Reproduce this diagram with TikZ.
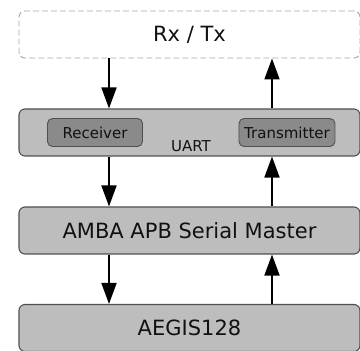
\documentclass[tikz,border=0pt]{standalone}
\usepackage{fontspec}
\setmainfont{DejaVu Sans}
\usetikzlibrary{arrows.meta}
\definecolor{boxfill}{HTML}{BDBDBD}
\definecolor{innerfill}{HTML}{8A8A8A}
\definecolor{boxline}{HTML}{505050}
\definecolor{dashline}{HTML}{A8A8A8}
\definecolor{txt}{HTML}{111111}
\tikzset{
  bigbox/.style={draw=boxline, line width=1.1pt, fill=boxfill, rounded corners=6pt,
    minimum width=341pt, minimum height=47pt, inner sep=0pt, text=txt,
    font=\fontsize{21}{25}\selectfont},
  ghostbox/.style={draw=dashline, dash pattern=on 6pt off 3pt, line width=0.9pt, fill=white,
    rounded corners=6pt, minimum width=341pt, minimum height=47pt, inner sep=0pt, text=txt,
    font=\fontsize{21}{25}\selectfont},
  innerbox/.style={draw=boxline, line width=0.9pt, fill=innerfill, rounded corners=5pt,
    minimum height=28pt, inner sep=0pt, text=txt, font=\fontsize{15}{18}\selectfont},
  smalltext/.style={inner sep=0pt, text=txt, font=\fontsize{15}{18}\selectfont},
  arr/.style={line width=1.8pt, -{Triangle[length=21pt,width=15pt]}}
}
\begin{document}
\begin{tikzpicture}[x=1pt,y=1pt]
\useasboundingbox (0,0) rectangle (360,351);
\node[ghostbox] (rxtx) at (189.5,316.5) {Rx / Tx};
\node[bigbox] (uart) at (189.5,218.5) {};
\node[innerbox, minimum width=95pt] (rec) at (95,218.5) {Receiver};
\node[innerbox, minimum width=96pt] (tra) at (287,218.5) {Transmitter};
\node[smalltext] (uartlbl) at (191,205) {UART};
\node[bigbox] (amba) at (189.5,120.5) {AMBA APB Serial Master};
\node[bigbox] (aegis) at (189.5,23) {AEGIS128};
\coordinate (lx) at (109,0);
\coordinate (rx) at (272,0);
\draw[arr] (rxtx.south -| lx) -- (uart.north -| lx);
\draw[arr] (uart.north -| rx) -- (rxtx.south -| rx);
\draw[arr] (uart.south -| lx) -- (amba.north -| lx);
\draw[arr] (amba.north -| rx) -- (uart.south -| rx);
\draw[arr] (amba.south -| lx) -- (aegis.north -| lx);
\draw[arr] (aegis.north -| rx) -- (amba.south -| rx);
\end{tikzpicture}
\end{document}
